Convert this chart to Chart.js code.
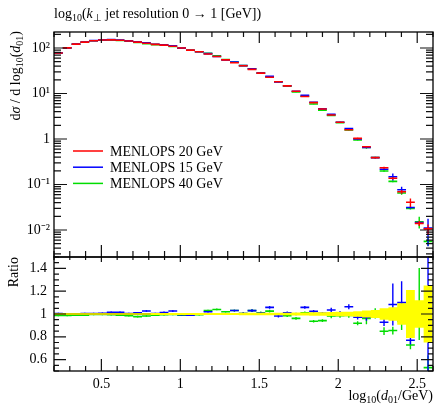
<!DOCTYPE html>
<html>
<head>
<meta charset="utf-8">
<script src="https://cdn.jsdelivr.net/npm/chart.js@4/dist/chart.umd.min.js"></script>
<style>
  html, body { margin: 0; padding: 0; background: #fff; }
  #wrap { position: relative; width: 434px; height: 406px; font-family: "Liberation Serif", serif; color: #000; }
  canvas { position: absolute; left: 0; }
  #main { top: 0; }
  #ratio { top: 254px; }
  .lbl { position: absolute; white-space: nowrap; font-size: 14px; line-height: 14px; }
  .lbl sub { font-size: 10px; vertical-align: -3px; line-height: 0; }
  #title { left: 54px; top: 7px; }
  #ylab { left: 9px; top: 31px; transform-origin: 0 0; transform: rotate(-90deg) translateX(-100%); }
  #rlab { left: 7px; top: 257px; transform-origin: 0 0; transform: rotate(-90deg) translateX(-100%); }
  #xlab { right: 1px; top: 389px; }
</style>
</head>
<body>
<div id="wrap">
  <canvas id="main" width="434" height="260"></canvas>
  <canvas id="ratio" width="434" height="152"></canvas>
  <div class="lbl" id="title">log<sub>10</sub>(<i>k</i><sub>⊥</sub> jet resolution 0 → 1 [GeV])</div>
  <div class="lbl" id="ylab">d<i>σ</i> / d log<sub>10</sub>(<i>d</i><sub>01</sub>)</div>
  <div class="lbl" id="rlab">Ratio</div>
  <div class="lbl" id="xlab">log<sub>10</sub>(<i>d</i><sub>01</sub>/GeV)</div>
</div>
<script>
// histogram binning: 60 bins from 0.2 to log10(3500), first 43 shown
const binLow = 0.2;
const binWidth = 0.05573;

// dsigma/dlog10(d01) per bin
const menlops20 = [78, 101, 122, 135, 145, 150, 151, 148, 143, 135,
  127, 120, 116, 109, 100, 90, 83, 74, 65, 55,
  47.5, 40.8, 34, 28, 22.7, 18.2, 14.7, 11.2, 8.6, 6.3,
  4.57, 3.37, 2.33, 1.60, 1.035, 0.676, 0.39, 0.234, 0.137, 0.0695,
  0.0407, 0.0140, 0.0106];
const menlops15 = [78.39, 101.0, 122.0, 135.4, 145.7, 150.8, 153.1, 150.1, 143.7, 136.4,
  130.3, 120.6, 117.6, 111.8, 99.4, 89.1, 83.0, 75.48, 65.0, 55.0,
  48.93, 40.96, 35.02, 28.17, 24.02, 17.87, 14.85, 11.2, 9.099, 6.445,
  4.597, 3.488, 2.344, 1.702, 1.005, 0.6564, 0.39, 0.2172, 0.1485, 0.07645,
  0.03134, 0.01449, 0.01102];
const menlops40 = [77.06, 99.79, 120.8, 133.7, 144.3, 149.3, 150.2, 146.5, 141.0, 131.9,
  124.8, 118.8, 115.4, 108.5, 99.0, 89.46, 82.5, 76.22, 67.6, 56.1,
  48.93, 40.96, 35.02, 28.28, 23.27, 18.15, 14.48, 10.77, 8.686, 5.897,
  4.305, 3.313, 2.297, 1.578, 0.9512, 0.6503, 0.3923, 0.1987, 0.1171, 0.06498,
  0.02963, 0.01522, 0.005618];

// relative uncertainties
const err20 = [0.006, 0.006, 0.006, 0.006, 0.006, 0.006, 0.006, 0.006, 0.006, 0.006,
  0.006, 0.008, 0.008, 0.008, 0.008, 0.008, 0.008, 0.008, 0.008, 0.008,
  0.008, 0.012, 0.012, 0.012, 0.012, 0.012, 0.012, 0.013, 0.014, 0.015,
  0.016, 0.018, 0.02, 0.02, 0.025, 0.03, 0.035, 0.05, 0.06, 0.095,
  0.21, 0.12, 0.25];
const err15 = [0.007, 0.007, 0.007, 0.007, 0.007, 0.007, 0.007, 0.007, 0.007, 0.007,
  0.007, 0.007, 0.007, 0.007, 0.007, 0.007, 0.007, 0.007, 0.007, 0.007,
  0.007, 0.012, 0.012, 0.012, 0.012, 0.012, 0.012, 0.012, 0.012, 0.012,
  0.012, 0.02, 0.02, 0.02, 0.02, 0.03, 0.035, 0.035, 0.17, 0.17,
  0.05, 0.06, 0.6];
const err40 = [0.007, 0.007, 0.007, 0.007, 0.007, 0.007, 0.007, 0.007, 0.007, 0.007,
  0.007, 0.007, 0.007, 0.007, 0.007, 0.007, 0.007, 0.007, 0.007, 0.007,
  0.007, 0.012, 0.012, 0.012, 0.012, 0.012, 0.012, 0.012, 0.012, 0.012,
  0.012, 0.02, 0.02, 0.02, 0.02, 0.055, 0.045, 0.04, 0.04, 0.08,
  0.05, 0.29, 0.2];

const xTicks = [0.5, 1, 1.5, 2, 2.5];
const yTicks = [0.01, 0.1, 1, 10, 100];
const yTickLabels = ['10⁻²', '10⁻¹', '1', '10¹', '10²'];
const ratioTicks = [0.6, 0.8, 1, 1.2, 1.4];
const seriesNames = ['MENLOPS 20 GeV', 'MENLOPS 15 GeV', 'MENLOPS 40 GeV'];

const RED = '#ff0000', BLUE = '#0000ff', GREEN = '#00dd00';
const FONT = { family: 'Liberation Serif', size: 14 };

const edge = i => binLow + i * binWidth;

// one horizontal bar per bin, broken between bins
function bars(vals, ref) {
  const pts = [];
  vals.forEach((v, i) => {
    const y = ref ? v / ref[i] : v;
    pts.push({ x: edge(i), y }, { x: edge(i + 1), y }, { x: edge(i + 1), y: null });
  });
  return pts;
}

// vertical error bar at bin centre
function errs(vals, rel, ref) {
  const pts = [];
  vals.forEach((v, i) => {
    const s = ref ? 1 / ref[i] : 1;
    const c = edge(i + 0.5);
    pts.push({ x: c, y: Math.max(v * (1 - rel[i]) * s, 1e-4) },
             { x: c, y: v * (1 + rel[i]) * s }, { x: c, y: null });
  });
  return pts;
}

// step band around 1 for the reference uncertainty
function band(rel, sign) {
  const pts = [];
  rel.forEach((e, i) => {
    pts.push({ x: edge(i), y: 1 + sign * e }, { x: edge(i + 1), y: 1 + sign * e });
  });
  return pts;
}

function lineSet(data, color, width) {
  return { data, borderColor: color, borderWidth: width, pointRadius: 0,
           spanGaps: false, tension: 0, fill: false, clip: 0 };
}

function range(a, b, step) {
  const out = [];
  for (let v = a; v <= b + 1e-9; v += step) out.push(+v.toFixed(4));
  return out;
}

// keep the plot area where the layout padding puts it
function fixWidth(s) {
  s.width = 54;
  s.paddingTop = 0;
  s.paddingBottom = 0;
}
function fixHeight(s) {
  s.height = 35;
  s.paddingLeft = 0;
  s.paddingRight = 0;
}

// frame with inward ticks on all four sides
const framePlugin = {
  id: 'frame',
  afterDraw(chart, args, o) {
    const { ctx, chartArea: a, scales: { x, y } } = chart;
    ctx.save();
    ctx.strokeStyle = '#111';
    ctx.lineWidth = 1.2;
    ctx.beginPath();
    const tick = (x0, y0, x1, y1) => { ctx.moveTo(x0, y0); ctx.lineTo(x1, y1); };
    o.xMinor.forEach(v => {
      const px = x.getPixelForValue(v);
      tick(px, a.bottom, px, a.bottom - o.xBot[1]);
      tick(px, a.top, px, a.top + o.xTop[1]);
    });
    o.xMajor.forEach(v => {
      const px = x.getPixelForValue(v);
      tick(px, a.bottom, px, a.bottom - o.xBot[0]);
      tick(px, a.top, px, a.top + o.xTop[0]);
    });
    o.yMinor.forEach(v => {
      const py = y.getPixelForValue(v);
      if (py < a.top || py > a.bottom) return;
      tick(a.left, py, a.left + o.yLen[1], py);
      tick(a.right, py, a.right - o.yLen[1], py);
    });
    o.yMajor.forEach(v => {
      const py = y.getPixelForValue(v);
      tick(a.left, py, a.left + o.yLen[0], py);
      tick(a.right, py, a.right - o.yLen[0], py);
    });
    ctx.stroke();
    ctx.lineWidth = 1.3;
    ctx.strokeStyle = '#000';
    ctx.strokeRect(a.left, a.top, a.right - a.left, a.bottom - a.top);
    ctx.restore();
  }
};

const legendPlugin = {
  id: 'keyBox',
  afterDraw(chart, args, o) {
    if (!o.items) return;
    const { ctx, chartArea: a } = chart;
    ctx.save();
    ctx.font = '14px "Liberation Serif"';
    ctx.fillStyle = '#000';
    ctx.textBaseline = 'alphabetic';
    o.items.forEach((it, i) => {
      const yy = a.top + 119 + i * 16.2;
      ctx.strokeStyle = it.color;
      ctx.lineWidth = 1.5;
      ctx.beginPath();
      ctx.moveTo(a.left + 19, yy);
      ctx.lineTo(a.left + 49, yy);
      ctx.stroke();
      ctx.fillText(it.name, a.left + 56, yy + 4.5);
    });
    ctx.restore();
  }
};

const xMinor = range(0.2, 2.6, 0.1);
const logMinor = [];
[-3, -2, -1, 0, 1, 2].forEach(k => {
  for (let m = 2; m <= 9; m++) logMinor.push(m * Math.pow(10, k));
});

// upper panel: distributions
new Chart(document.getElementById('main'), {
  type: 'line',
  data: {
    datasets: [
      lineSet(bars(menlops20), RED, 1.6),
      lineSet(errs(menlops20, err20), RED, 1.4),
      lineSet(bars(menlops15), BLUE, 1.6),
      lineSet(errs(menlops15, err15), BLUE, 1.4),
      lineSet(bars(menlops40), GREEN, 1.6),
      lineSet(errs(menlops40, err40), GREEN, 1.4)
    ]
  },
  options: {
    responsive: false,
    animation: false,
    events: [],
    layout: { padding: { top: 32, right: 1, bottom: 3, left: 0 } },
    scales: {
      x: { type: 'linear', min: 0.2, max: 2.6, display: false },
      y: {
        type: 'logarithmic', min: 0.00255, max: 225,
        afterFit: fixWidth,
        afterBuildTicks: s => { s.ticks = yTicks.map(v => ({ value: v })); },
        grid: { display: false, drawTicks: false },
        border: { display: false },
        ticks: {
          padding: 4, color: '#000', font: FONT, autoSkip: false,
          callback: v => yTickLabels[yTicks.indexOf(v)]
        }
      }
    },
    plugins: {
      legend: { display: false },
      tooltip: { enabled: false },
      frame: { xMajor: xTicks, xMinor, xBot: [12, 6], xTop: [11, 5],
               yMajor: yTicks, yMinor: logMinor, yLen: [13, 7] },
      keyBox: { items: seriesNames.map((n, i) => ({ name: n, color: [RED, BLUE, GREEN][i] })) }
    }
  },
  plugins: [framePlugin, legendPlugin]
});

// lower panel: ratio to MENLOPS 20 GeV
new Chart(document.getElementById('ratio'), {
  type: 'line',
  data: {
    datasets: [
      Object.assign(lineSet(band(err20, 1), 'rgba(0,0,0,0)', 0), { fill: '+1', backgroundColor: '#ffff00' }),
      lineSet(band(err20, -1), 'rgba(0,0,0,0)', 0),
      lineSet(bars(menlops20, menlops20), '#4a3c00', 2),
      lineSet(bars(menlops15, menlops20), BLUE, 1.6),
      lineSet(errs(menlops15, err15, menlops20), BLUE, 1.4),
      lineSet(bars(menlops40, menlops20), GREEN, 1.6),
      lineSet(errs(menlops40, err40, menlops20), GREEN, 1.4)
    ]
  },
  options: {
    responsive: false,
    animation: false,
    events: [],
    layout: { padding: { top: 3, right: 1, bottom: 0, left: 0 } },
    scales: {
      x: {
        type: 'linear', min: 0.2, max: 2.6,
        afterFit: fixHeight,
        afterBuildTicks: s => { s.ticks = xTicks.map(v => ({ value: v })); },
        grid: { display: false, drawTicks: false },
        border: { display: false },
        ticks: { padding: 5, color: '#000', font: FONT, maxRotation: 0, autoSkip: false,
                 callback: v => String(v) }
      },
      y: {
        type: 'linear', min: 0.5, max: 1.5,
        afterFit: fixWidth,
        afterBuildTicks: s => { s.ticks = ratioTicks.map(v => ({ value: v })); },
        grid: { display: false, drawTicks: false },
        border: { display: false },
        ticks: { padding: 7, color: '#000', font: FONT, autoSkip: false,
                 callback: v => String(v) }
      }
    },
    plugins: {
      legend: { display: false },
      tooltip: { enabled: false },
      frame: { xMajor: xTicks, xMinor, xBot: [12, 5], xTop: [5, 3],
               yMajor: ratioTicks, yMinor: range(0.5, 1.5, 0.05), yLen: [12, 5] }
    }
  },
  plugins: [framePlugin]
});
</script>
</body>
</html>
